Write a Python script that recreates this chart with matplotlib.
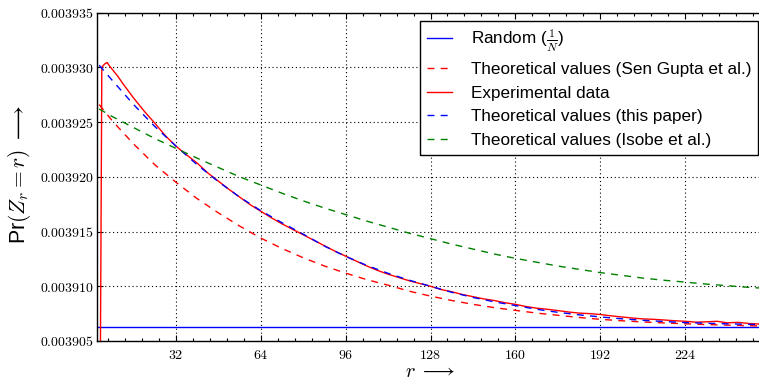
import matplotlib
matplotlib.use("Agg")
import matplotlib.pyplot as plt
from matplotlib.ticker import AutoMinorLocator, FuncFormatter

plt.rcParams['font.family'] = ['Liberation Sans', 'DejaVu Sans']
plt.rcParams['mathtext.fontset'] = 'cm'

# ---------------- data ----------------
N = 256
random_level = 1.0 / N

r_theory = [3, 8, 16, 24, 32, 40, 48, 56, 64, 72, 80, 88, 96, 104, 112, 120, 128,
            136, 144, 152, 160, 168, 176, 184, 192, 200, 208, 216, 224, 232, 240, 248, 255]

# values in units of 1e-6 above 0.0039
sengupta_e6 = [26.6, 25.1, 23.0, 21.1, 19.5, 18.0, 16.7, 15.5, 14.4, 13.45, 12.6, 11.85,
               11.2, 10.6, 10.1, 9.55, 9.1, 8.7, 8.35, 8.05, 7.8, 7.55, 7.35, 7.15, 6.98,
               6.85, 6.74, 6.65, 6.57, 6.5, 6.45, 6.4, 6.36]
thispaper_e6 = [30.2, 28.8, 26.6, 24.6, 22.8, 21.1, 19.55, 18.15, 16.9, 15.8, 14.76, 13.67,
                12.73, 11.9, 11.18, 10.55, 10.0, 9.45, 8.98, 8.58, 8.24, 7.9, 7.62, 7.39,
                7.2, 7.03, 6.89, 6.78, 6.68, 6.62, 6.57, 6.52, 6.49]
isobe_e6 = [26.2, 25.5, 24.5, 23.5, 22.6, 21.7, 20.85, 20.0, 19.25, 18.5, 17.8, 17.15,
            16.55, 15.95, 15.4, 14.85, 14.35, 13.85, 13.4, 12.95, 12.55, 12.2, 11.85,
            11.55, 11.25, 11.0, 10.75, 10.55, 10.38, 10.2, 10.05, 9.9, 9.8]

r_exp = [3, 4, 5, 6, 7, 8, 10, 12, 14, 16, 20, 24, 28, 32, 36, 40, 44, 48, 52, 56, 60, 64,
         68, 72, 76, 80, 84, 88, 92, 96, 100, 104, 108, 112, 116, 120, 124, 128, 132, 136,
         140, 144, 148, 152, 156, 160, 164, 168, 172, 176, 180, 184, 188, 192, 196, 200,
         204, 208, 212, 216, 220, 224, 228, 232, 236, 240, 244, 248, 252, 255]
exp_e6 = [-20.0, 30.0, 30.3, 30.45, 30.1, 29.8, 29.2, 28.5, 27.85, 27.2, 26.0, 24.9, 23.75,
          22.8, 22.0, 21.25, 20.35, 19.6, 18.85, 18.15, 17.45, 16.85, 16.25, 15.7, 15.2,
          14.7, 14.2, 13.7, 13.2, 12.75, 12.3, 11.85, 11.45, 11.1, 10.8, 10.5, 10.25, 10.0,
          9.7, 9.5, 9.25, 9.05, 8.85, 8.7, 8.5, 8.35, 8.15, 8.0, 7.9, 7.78, 7.65, 7.55, 7.5,
          7.42, 7.3, 7.2, 7.1, 7.02, 6.98, 6.92, 6.85, 6.8, 6.72, 6.75, 6.8, 6.66, 6.7,
          6.6, 6.55, 6.45]

def to_prob(vals):
    return [0.0039 + v * 1e-6 for v in vals]

sengupta = to_prob(sengupta_e6)
thispaper = to_prob(thispaper_e6)
isobe = to_prob(isobe_e6)
experimental = to_prob(exp_e6)

x_ticks = [32, 64, 96, 128, 160, 192, 224]
y_ticks = [0.003905, 0.003910, 0.003915, 0.003920, 0.003925, 0.003930, 0.003935]

# ---------------- figure ----------------
fig = plt.figure(figsize=(7.59, 3.83), dpi=100)
ax = fig.add_axes([0.1282, 0.1097, 0.8826, 0.8572])
AX_W, AX_H = 669.9, 328.3   # axes size in pixels (left spine x=97.3, bottom spine y=341)

dash = (0, (5, 4.5))
ax.axhline(random_level, color='b', lw=1.0, label=r'Random ($\frac{1}{N}$)')
ax.plot(r_theory, sengupta, color='r', lw=1.0, linestyle=dash,
        label='Theoretical values (Sen Gupta et al.)')
ax.plot(r_exp, experimental, color='r', lw=1.0, label='Experimental data')
ax.plot(r_theory, thispaper, color='b', lw=1.0, linestyle=dash,
        label='Theoretical values (this paper)')
ax.plot(r_theory, isobe, color='g', lw=1.0, linestyle=dash,
        label='Theoretical values (Isobe et al.)')

ax.set_xlim(2.3, 255)
ax.set_ylim(0.003905, 0.003935)
ax.set_xticks(x_ticks)
ax.set_yticks(y_ticks)
ax.xaxis.set_minor_locator(AutoMinorLocator(5))
ax.xaxis.set_major_formatter(FuncFormatter(lambda v, p: r'$%d$' % v))
ax.yaxis.set_major_formatter(FuncFormatter(lambda v, p: r'$%.6f$' % v))

ax.tick_params(which='both', direction='in', top=True, right=True)
ax.tick_params(axis='x', which='major', length=4.3, width=0.8, pad=5, labelsize=10)
ax.tick_params(axis='x', which='minor', length=2, width=0.8)
ax.tick_params(axis='y', which='major', length=4.3, width=0.8, pad=2.5, labelsize=10)
for s in ax.spines.values():
    s.set_linewidth(1.0)

ax.grid(True, which='major', color='k', linestyle=(0, (1, 2.5)), linewidth=0.8)

ax.set_xlabel(r'$r\;\longrightarrow$', fontsize=14.5)
ax.set_ylabel(r'Pr$(Z_r = r)\;\longrightarrow$', fontsize=15.5)
ax.xaxis.set_label_coords((430.5 - 97.3) / AX_W, -(362 - 341) / AX_H)
ax.yaxis.set_label_coords((33 - 97.3) / AX_W, (341 - 175) / AX_H)

leg = ax.legend(loc='upper right', bbox_to_anchor=(758 / 759, 1 - 20.7 / 383),
                bbox_transform=fig.transFigure, borderaxespad=0, fontsize=12.3,
                fancybox=False, frameon=True, framealpha=1, edgecolor='k',
                borderpad=0.4, handlelength=1.45, handletextpad=1.1, labelspacing=0.5)
leg.get_frame().set_linewidth(1.0)

fig.savefig('out.png', dpi=100)
